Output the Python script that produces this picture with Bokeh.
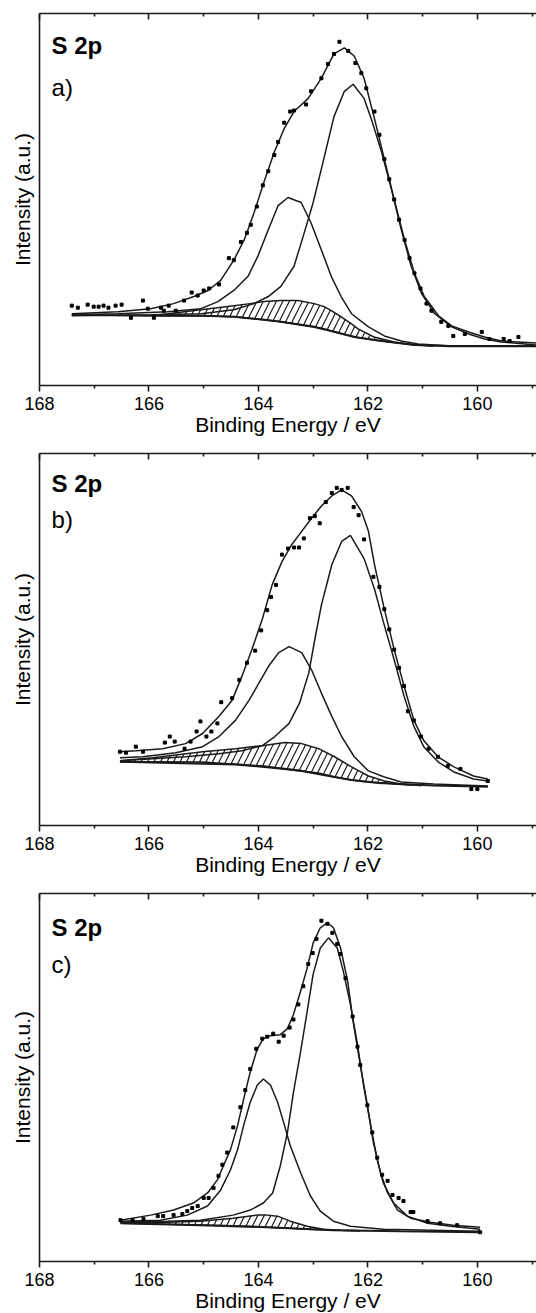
from bokeh.plotting import figure
from bokeh.models import LinearAxis, FixedTicker, Range1d, Label, Title
from bokeh.layouts import column
from bokeh.embed import file_html
from bokeh.resources import INLINE

# ---------------- Panel a ----------------
a_bg_E = [167.41, 166.0, 165.0, 164.45, 163.9, 163.59, 162.98, 162.67, 162.25, 161.75, 161.15, 160.5, 158.9]
a_bg_I = [70, 69, 69, 68, 65, 63, 58, 54, 48, 44, 40, 39, 39]

a_hat_E = [165.8, 165.5, 165.05, 164.75, 164.45, 164.15, 163.9, 163.59, 163.28, 162.98, 162.8, 162.67, 162.49, 162.3, 162.18, 161.89, 161.52, 161.2, 160.8]
a_hat_lo = [69, 69, 69, 68.5, 68, 66.5, 65, 63, 60.5, 58, 56, 54, 51.5, 49, 47.5, 45, 42.5, 40.5, 39]
a_hat_hi = [70, 72, 75, 77, 79, 81, 83, 84, 84, 81, 78, 74, 68, 61, 56, 48, 43, 40.5, 39]

a_c1_E = [167.41, 165.97, 165.05, 164.45, 164.08, 163.82, 163.59, 163.35, 163.18, 163.0, 162.82, 162.62, 162.43, 162.27, 162.07, 161.94, 161.75, 161.57, 161.39, 161.21, 161.02, 160.78, 160.47, 160.16, 159.87, 159.56, 158.9]
a_c1_I = [69, 70, 71, 75, 81, 88, 98, 118, 148, 181, 221, 266, 291, 298, 284, 264, 231, 194, 154, 118, 91, 71, 58, 51, 46, 43, 40]

a_c2_E = [167.41, 166.57, 165.66, 165.05, 164.74, 164.45, 164.19, 164.01, 163.82, 163.64, 163.46, 163.22, 163.04, 162.85, 162.67, 162.49, 162.3, 161.99, 161.7, 161.39, 161.08, 160.47, 158.9]
a_c2_I = [70, 71, 73, 76, 83, 94, 108, 128, 154, 178, 186, 181, 161, 134, 108, 88, 71, 58, 49, 44, 41, 39, 39]

a_env_E = [167.41, 166.57, 165.97, 165.55, 165.18, 164.92, 164.69, 164.45, 164.26, 164.08, 163.9, 163.71, 163.53, 163.35, 163.09, 162.85, 162.62, 162.43, 162.25, 162.07, 161.88, 161.7, 161.52, 161.33, 161.15, 160.97, 160.71, 160.47, 160.16, 159.87, 159.56, 158.9]
a_env_I = [71, 73, 76, 81, 88, 94, 104, 124, 144, 171, 201, 231, 254, 271, 284, 304, 328, 334, 326, 304, 264, 224, 184, 144, 111, 88, 69, 59, 53, 48, 44, 42]

a_dat_E = [167.41, 167.30, 167.12, 167.01, 166.92, 166.83, 166.74, 166.61, 166.50, 166.33, 166.11, 166.02, 165.91, 165.78, 165.73, 165.64, 165.51, 165.36, 165.22, 165.11, 165.00, 164.90, 164.72, 164.54, 164.45, 164.32, 164.21, 164.14, 164.03, 163.92, 163.82, 163.71, 163.64, 163.53, 163.42, 163.35, 163.13, 163.04, 162.85, 162.73, 162.62, 162.52, 162.36, 162.23, 162.12, 162.03, 161.88, 161.79, 161.70, 161.61, 161.52, 161.43, 161.33, 161.24, 161.15, 161.04, 160.93, 160.84, 160.66, 160.53, 160.44, 160.23, 159.92, 159.78, 159.52, 159.41, 159.25]
a_dat_I = [79, 77, 80, 78, 78, 79, 77, 79, 80, 67, 84, 76, 67, 77, 74, 79, 74, 84, 92, 89, 94, 96, 100, 126, 124, 142, 151, 159, 177, 198, 212, 228, 241, 260, 271, 272, 278, 291, 304, 318, 328, 340, 331, 319, 309, 294, 271, 248, 224, 204, 184, 164, 144, 126, 111, 96, 81, 74, 63, 59, 49, 51, 53, 46, 46, 44, 48]

# ---------------- Panel b ----------------
b_bg_E = [166.53, 164.42, 163.52, 163.21, 162.61, 162.30, 161.81, 160.80, 159.81]
b_bg_I = [63, 60.5, 56, 54, 48, 45, 42, 39.5, 38.5]

b_hat_E = [166.53, 165.93, 165.02, 164.42, 163.93, 163.52, 163.21, 162.90, 162.61, 162.30, 161.99, 161.70, 161.39, 161.03]
b_hat_lo = [63, 63, 62.7, 60.5, 59, 56, 54, 52, 48, 45, 43, 42, 40.5, 39.5]
b_hat_hi = [64, 67, 73, 76, 79, 82, 81, 76, 68, 58, 49, 44, 41, 39.5]

b_c1_E = [166.53, 165.33, 164.72, 164.30, 163.93, 163.70, 163.44, 163.25, 163.08, 162.97, 162.85, 162.66, 162.48, 162.32, 162.07, 161.88, 161.70, 161.52, 161.34, 161.16, 160.98, 160.72, 160.43, 160.07, 159.81]
b_c1_I = [64, 68, 71, 74, 79, 88, 101, 121, 151, 184, 218, 258, 281, 287, 264, 234, 198, 164, 128, 98, 78, 63, 53, 46, 44]

b_c2_E = [166.53, 166.11, 165.51, 165.02, 164.72, 164.42, 164.17, 163.99, 163.81, 163.63, 163.44, 163.21, 163.03, 162.85, 162.66, 162.48, 162.25, 161.99, 161.70, 161.39, 160.80, 159.81]
b_c2_I = [67, 68, 72, 78, 88, 104, 124, 141, 158, 171, 177, 171, 154, 131, 108, 88, 68, 54, 48, 43, 41, 39]

b_env_E = [166.53, 166.24, 165.75, 165.33, 165.02, 164.72, 164.48, 164.30, 164.12, 163.93, 163.75, 163.57, 163.39, 163.21, 163.03, 162.85, 162.66, 162.48, 162.30, 162.12, 161.99, 161.88, 161.70, 161.52, 161.34, 161.16, 160.98, 160.72, 160.43, 160.07, 159.81]
b_env_I = [73, 74, 76, 81, 91, 108, 124, 148, 174, 204, 238, 261, 278, 291, 304, 316, 326, 332, 326, 311, 291, 258, 214, 174, 138, 104, 84, 68, 58, 49, 46]

b_dat_E = [166.53, 166.42, 166.24, 166.11, 165.71, 165.62, 165.53, 165.35, 165.24, 165.13, 165.06, 164.95, 164.86, 164.75, 164.68, 164.48, 164.35, 164.21, 164.06, 163.95, 163.84, 163.77, 163.68, 163.57, 163.46, 163.35, 163.26, 163.17, 163.06, 162.97, 162.88, 162.77, 162.66, 162.57, 162.48, 162.37, 162.26, 162.17, 162.07, 161.90, 161.79, 161.70, 161.61, 161.52, 161.43, 161.34, 161.27, 161.16, 161.03, 160.89, 160.72, 160.54, 160.31, 160.11, 160.00, 159.81]
b_dat_I = [73, 72, 78, 73, 82, 88, 83, 76, 83, 93, 103, 88, 93, 101, 122, 126, 144, 161, 173, 193, 213, 226, 238, 268, 274, 275, 275, 284, 304, 306, 299, 320, 329, 334, 332, 334, 315, 307, 283, 246, 236, 214, 194, 174, 156, 138, 113, 104, 88, 76, 68, 59, 56, 36, 36, 44]

# ---------------- Panel c ----------------
c_bg_E = [166.52, 165.06, 163.84, 162.63, 161.41, 159.95]
c_bg_I = [38, 36, 34, 31, 30, 29]

c_hat_E = [166.52, 165.66, 165.06, 164.46, 164.02, 163.84, 163.65, 163.42, 163.11, 162.81, 162.50, 162.14]
c_hat_lo = [38, 37, 36.3, 35.5, 34.5, 34, 33.5, 33, 32, 31.5, 31, 30.5]
c_hat_hi = [39, 39, 40, 43, 46, 46, 45, 40, 35, 32, 31, 30.5]

c_c1_E = [166.52, 165.66, 165.06, 164.46, 164.15, 163.91, 163.74, 163.60, 163.47, 163.36, 163.23, 163.11, 163.00, 162.87, 162.72, 162.56, 162.45, 162.32, 162.19, 162.08, 161.95, 161.83, 161.72, 161.53, 161.28, 160.91, 160.49, 159.95]
c_c1_I = [39, 40, 41, 46, 51, 58, 68, 95, 128, 168, 208, 248, 285, 311, 321, 311, 288, 255, 215, 175, 135, 101, 78, 58, 45, 38, 35, 32]

c_c2_E = [166.52, 165.79, 165.30, 164.93, 164.69, 164.51, 164.38, 164.27, 164.15, 164.02, 163.91, 163.78, 163.65, 163.54, 163.42, 163.23, 163.05, 162.87, 162.63, 162.32, 161.72, 159.95]
c_c2_I = [40, 41, 46, 55, 71, 91, 111, 135, 158, 175, 181, 175, 158, 138, 115, 88, 65, 50, 40, 35, 32, 30]

c_env_E = [166.52, 165.97, 165.55, 165.19, 164.93, 164.75, 164.64, 164.51, 164.38, 164.27, 164.15, 164.02, 163.91, 163.78, 163.60, 163.47, 163.36, 163.23, 163.11, 163.00, 162.87, 162.74, 162.63, 162.50, 162.37, 162.27, 162.14, 162.01, 161.90, 161.77, 161.64, 161.46, 161.22, 160.86, 160.44, 159.95]
c_env_I = [41, 46, 51, 58, 68, 81, 95, 111, 135, 161, 188, 211, 221, 224, 225, 231, 245, 268, 291, 316, 331, 336, 331, 311, 278, 238, 195, 155, 118, 88, 68, 51, 43, 39, 36, 34]

c_dat_E = [166.52, 166.30, 166.10, 165.84, 165.74, 165.55, 165.39, 165.30, 165.21, 165.11, 165.00, 164.91, 164.82, 164.73, 164.66, 164.57, 164.46, 164.33, 164.24, 164.15, 164.04, 163.93, 163.84, 163.73, 163.63, 163.54, 163.43, 163.36, 163.27, 163.18, 163.09, 163.01, 162.94, 162.85, 162.74, 162.65, 162.56, 162.50, 162.41, 162.28, 162.19, 162.14, 162.01, 161.92, 161.83, 161.74, 161.64, 161.55, 161.44, 161.35, 161.22, 161.17, 160.91, 160.68, 160.37, 159.95]
c_dat_I = [41, 41, 42, 45, 45, 46, 47, 50, 53, 55, 63, 63, 73, 85, 96, 108, 133, 153, 170, 191, 211, 221, 223, 226, 218, 224, 232, 240, 255, 273, 295, 306, 320, 338, 335, 326, 315, 305, 281, 243, 213, 195, 155, 128, 103, 86, 80, 66, 63, 60, 49, 49, 40, 38, 36, 29]

x_major = [168, 166, 164, 162, 160]
x_minor = [167, 165, 163, 161, 159]
panel_letters = ["a)", "b)", "c)"]
FONT = "Liberation Sans"
INK = "#1a1a1a"


def make_panel(letter, bg, hat, c1, c2, env, dat, height, b_top, b_left, ymax,
               lbl_y1, lbl_y2, title_offset):
    p = figure(width=536, height=height, output_backend="svg", toolbar_location=None,
               x_range=Range1d(168, 158.92), y_range=Range1d(0, ymax),
               min_border_left=b_left, min_border_right=0, min_border_top=b_top,
               min_border_bottom=40, background_fill_color="white",
               border_fill_color="white")
    p.outline_line_color = None
    p.grid.visible = False

    # bottom axis
    xa = p.xaxis[0]
    xa.ticker = FixedTicker(ticks=x_major, minor_ticks=x_minor)
    xa.major_tick_out = 6
    xa.major_tick_in = 0
    xa.minor_tick_out = 3
    xa.minor_tick_in = 0
    xa.axis_line_width = 1.6
    xa.axis_line_color = INK
    xa.major_tick_line_width = 1.6
    xa.minor_tick_line_width = 1.6
    xa.major_tick_line_color = INK
    xa.minor_tick_line_color = INK
    xa.major_label_text_font = FONT
    xa.major_label_text_font_size = "18px"
    xa.major_label_text_color = "black"
    xa.major_label_standoff = 5

    # x-axis title, centred on the original (wider) frame
    p.add_layout(Title(text="Binding Energy / eV", align="center", offset=title_offset,
                       vertical_align="top", standoff=0, text_font=FONT,
                       text_font_size="21px", text_font_style="normal",
                       text_color="black"), "below")

    # top axis with inward ticks, no labels
    ta = LinearAxis(ticker=FixedTicker(ticks=x_major, minor_ticks=x_minor),
                    major_tick_in=6, major_tick_out=0, minor_tick_in=3, minor_tick_out=0,
                    major_label_overrides={t: "" for t in x_major}, major_label_standoff=0,
                    axis_line_width=1.6, axis_line_color=INK,
                    major_tick_line_color=INK, minor_tick_line_color=INK,
                    major_tick_line_width=1.6, minor_tick_line_width=1.6)
    p.add_layout(ta, "above")

    # left axis without ticks
    ya = p.yaxis[0]
    ya.ticker = FixedTicker(ticks=[])
    ya.major_tick_out = 0
    ya.minor_tick_out = 0
    ya.major_label_standoff = 0
    ya.axis_line_width = 1.6
    ya.axis_line_color = INK
    ya.axis_label = "Intensity (a.u.)"
    ya.axis_label_text_font = FONT
    ya.axis_label_text_font_size = "21px"
    ya.axis_label_text_font_style = "normal"
    ya.axis_label_text_color = "black"
    ya.axis_label_standoff = 6

    lw = 1.5
    p.line(bg[0], bg[1], line_color=INK, line_width=lw + 0.6)
    p.varea(x=hat[0], y1=hat[1], y2=hat[2], fill_color=None, fill_alpha=0,
            hatch_pattern="/", hatch_color=INK, hatch_scale=13, hatch_weight=1.2)
    p.line(hat[0], hat[1], line_color=INK, line_width=lw)
    p.line(hat[0], hat[2], line_color=INK, line_width=lw)
    p.line(c1[0], c1[1], line_color=INK, line_width=lw)
    p.line(c2[0], c2[1], line_color=INK, line_width=lw)
    p.line(env[0], env[1], line_color=INK, line_width=lw)
    p.scatter(dat[0], dat[1], marker="square", size=3, fill_color="black", line_color="black")

    p.add_layout(Label(x=167.78, y=lbl_y1, text="S 2p", text_font=FONT, text_font_size="24px",
                       text_font_style="bold", text_baseline="middle", text_align="left",
                       text_color="black"))
    p.add_layout(Label(x=167.78, y=lbl_y2, text=letter, text_font=FONT, text_font_size="24px",
                       text_baseline="middle", text_align="left", text_color="black"))
    return p


pa = make_panel(panel_letters[0], (a_bg_E, a_bg_I), (a_hat_E, a_hat_lo, a_hat_hi),
                (a_c1_E, a_c1_I), (a_c2_E, a_c2_I), (a_env_E, a_env_I), (a_dat_E, a_dat_I),
                437, 13, 39, 368, 336, 295, 24)
pb = make_panel(panel_letters[1], (b_bg_E, b_bg_I), (b_hat_E, b_hat_lo, b_hat_hi),
                (b_c1_E, b_c1_I), (b_c2_E, b_c2_I), (b_env_E, b_env_I), (b_dat_E, b_dat_I),
                440, 16, 36, 368, 338, 303, 0)
pc = make_panel(panel_letters[2], (c_bg_E, c_bg_I), (c_hat_E, c_hat_lo, c_hat_hi),
                (c_c1_E, c_c1_I), (c_c2_E, c_c2_I), (c_env_E, c_env_I), (c_dat_E, c_dat_I),
                436, 16, 39, 365, 331, 295, 11)

layout = column(pa, pb, pc, spacing=0)
open("out.html", "w").write(file_html(layout, INLINE))
